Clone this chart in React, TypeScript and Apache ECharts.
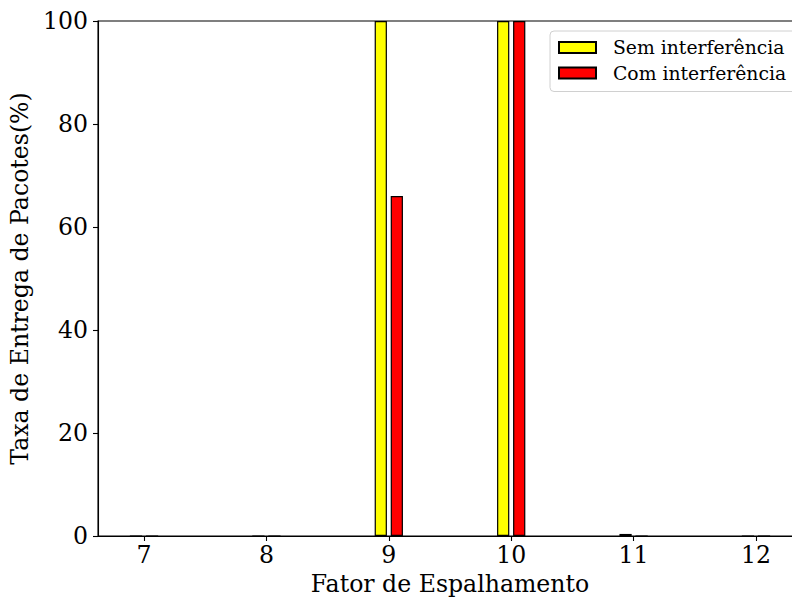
import React, { useEffect, useRef } from "react";
import * as echarts from "echarts";

const categories = [7, 8, 9, 10, 11, 12];
const semInterferencia = [0, 0, 100, 100, 0.4, 0];
const comInterferencia = [0, 0, 66, 100, 0, 0];
const yTicks = [0, 20, 40, 60, 80, 100];

const FONT = "DejaVu Serif";

export default function App() {
  const ref = useRef<HTMLDivElement>(null);
  useEffect(() => {
    if (!ref.current) return;
    const chart = echarts.init(ref.current, null, { renderer: "svg" });
    chart.setOption({
      animation: false,
      backgroundColor: "#ffffff",
      grid: {
        left: 98,
        top: 21,
        right: 10,
        bottom: 62,
        containLabel: false,
        outerBoundsMode: "none",
        show: true,
        borderColor: "#000",
        borderWidth: 1.1,
        backgroundColor: "transparent",
      },
      legend: {
        orient: "vertical",
        left: 550,
        top: 31,
        padding: [7, 11, 9, 8],
        itemWidth: 37,
        itemHeight: 11,
        itemGap: 6.5,
        borderColor: "#d0d0d0",
        borderWidth: 1,
        borderRadius: 4,
        backgroundColor: "#fff",
        icon: "rect",
        textStyle: {
          fontFamily: FONT,
          fontSize: 18.8,
          color: "#000",
          padding: [0, 0, 0, 12],
        },
        data: ["Sem interferência", "Com interferência"],
      },
      xAxis: {
        type: "value",
        min: 6.624,
        max: 12.376,
        name: "Fator de Espalhamento",
        nameLocation: "middle",
        nameGap: 36,
        nameTextStyle: { fontFamily: FONT, fontSize: 23.6, color: "#000" },
        axisLine: { show: true, lineStyle: { color: "#000", width: 1.1 } },
        axisTick: {
          show: true,
          length: 5,
          lineStyle: { color: "#000", width: 1.1 },
          customValues: categories,
        },
        axisLabel: {
          fontFamily: FONT,
          fontSize: 23.6,
          color: "#000",
          margin: 7,
          customValues: categories,
          formatter: (v: number) => String(v),
        },
        splitLine: { show: false },
      },
      yAxis: {
        type: "value",
        min: 0,
        max: 100,
        interval: 20,
        name: "Taxa de Entrega de Pacotes(%)",
        nameLocation: "middle",
        nameGap: 62,
        nameTextStyle: { fontFamily: FONT, fontSize: 23.6, color: "#000" },
        axisLine: { show: true, lineStyle: { color: "#000", width: 1.1 } },
        axisTick: {
          show: true,
          length: 5,
          lineStyle: { color: "#000", width: 1.1 },
          customValues: yTicks,
        },
        axisLabel: {
          fontFamily: FONT,
          fontSize: 23.6,
          color: "#000",
          margin: 10,
          customValues: yTicks,
        },
        splitLine: { show: false },
      },
      series: [
        {
          name: "Sem interferência",
          type: "bar",
          barWidth: 12.24,
          barGap: "31%",
          data: categories.map((c, i) => [c, semInterferencia[i]]),
          itemStyle: { color: "#ffff00", borderColor: "#000", borderWidth: 1.2 },
        },
        {
          name: "Com interferência",
          type: "bar",
          barWidth: 12.24,
          barGap: "31%",
          data: categories.map((c, i) => [c, comInterferencia[i]]),
          itemStyle: { color: "#ff0000", borderColor: "#000", borderWidth: 1.2 },
        },
      ],
    });
    return () => chart.dispose();
  }, []);
  return (
    <div
      style={{
        position: "fixed",
        left: 0,
        top: 0,
        width: 792,
        height: 598,
        overflow: "hidden",
        background: "#fff",
      }}
    >
      <div ref={ref} style={{ width: 812, height: 598 }} />
    </div>
  );
}
